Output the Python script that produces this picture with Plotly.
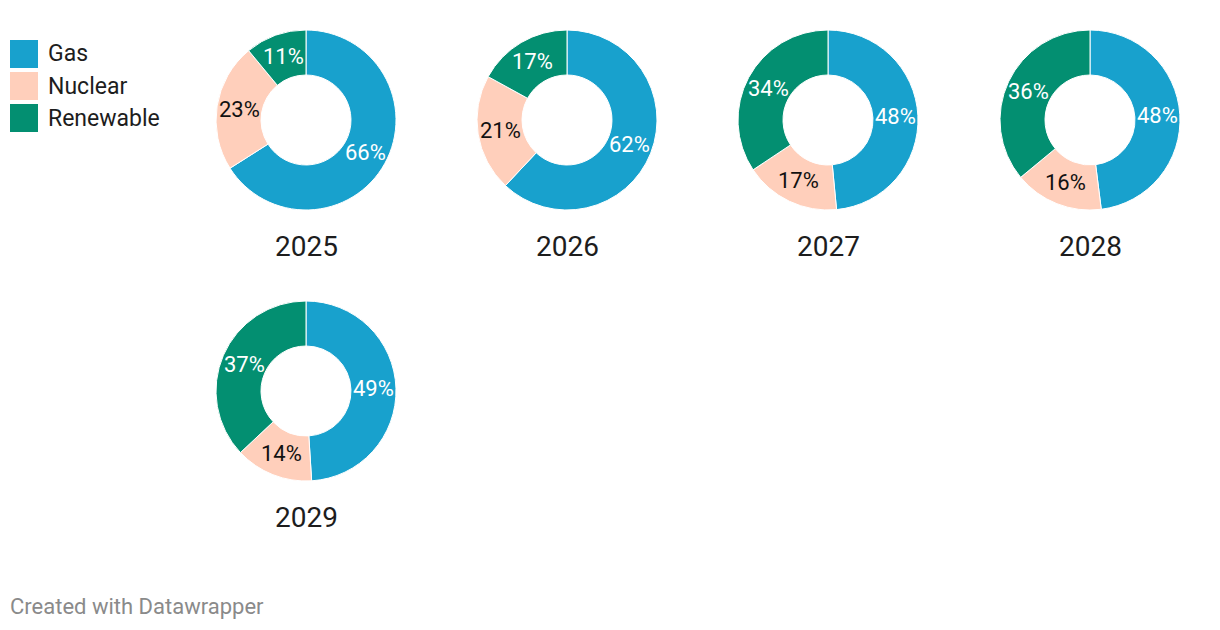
import math
import plotly.graph_objects as go

categories = ["Gas", "Nuclear", "Renewable"]
years = ["2025", "2026", "2027", "2028", "2029"]
gas = [66, 62, 48, 48, 49]
nuclear = [23, 21, 17, 16, 14]
renewable = [11, 17, 34, 36, 37]

colors = ["#18a1cd", "#ffcfbb", "#038f71"]
text_colors = ["#ffffff", "#111111", "#ffffff"]

W, H = 1220, 630
OFF = 8  # page body margin


def px(x):
    return (x - OFF) / W


def py(y):
    return 1 - (y - OFF) / H


# pie centers in pixels (layout positions)
centers = [(306, 120), (567, 120), (828, 120), (1090, 120), (306, 391)]
R = 90
HOLE = 0.5

fig = go.Figure()
for i, yr in enumerate(years):
    cx, cy = centers[i]
    vals = [gas[i], nuclear[i], renewable[i]]
    fig.add_trace(go.Pie(
        labels=categories,
        values=vals,
        textinfo="none",
        hole=HOLE,
        sort=False,
        direction="clockwise",
        rotation=0,
        marker=dict(colors=colors, line=dict(color="white", width=1)),
        domain=dict(x=[px(cx - R), px(cx + R)], y=[py(cy + R), py(cy - R)]),
        showlegend=False,
        hoverinfo="label+value",
    ))
    # value labels at the middle of each slice (derived from the data)
    total = sum(vals)
    cum = 0
    rm = R * (1 + HOLE) / 2
    for k, v in enumerate(vals):
        theta = (cum + v / 2) / total * 2 * math.pi
        cum += v
        lx = cx + rm * math.sin(theta)
        ly = cy - rm * math.cos(theta)
        fig.add_annotation(x=px(lx), y=py(ly), xref="paper", yref="paper",
                           text=f"{v}%", showarrow=False,
                           xanchor="center", yanchor="middle",
                           font=dict(family="Roboto", size=22, color=text_colors[k]))
    fig.add_annotation(x=px(cx), y=py(cy + R + 36), xref="paper", yref="paper",
                       text=yr, showarrow=False, xanchor="center", yanchor="middle",
                       font=dict(family="Roboto", size=28, color="#1d1d1d"))

# custom legend
for j, cat in enumerate(categories):
    top = 40 + j * 32
    fig.add_shape(type="rect", xref="paper", yref="paper",
                  x0=px(10), x1=px(38), y0=py(top + 28), y1=py(top),
                  fillcolor=colors[j], line=dict(width=0))
    fig.add_annotation(x=px(46), y=py(top + 14), xref="paper", yref="paper",
                       text=cat, showarrow=False, xanchor="left", yanchor="middle",
                       font=dict(family="Roboto", size=23, color="#1d1d1d"))

fig.add_annotation(x=px(8), y=py(606), xref="paper", yref="paper",
                   text="Created with Datawrapper", showarrow=False,
                   xanchor="left", yanchor="middle",
                   font=dict(family="Roboto", size=22, color="#8a8a8a"))

fig.update_layout(width=W, height=H, margin=dict(l=0, r=0, t=0, b=0),
                  paper_bgcolor="white", plot_bgcolor="white",
                  font=dict(family="Roboto"))
fig.write_html("out.html")
